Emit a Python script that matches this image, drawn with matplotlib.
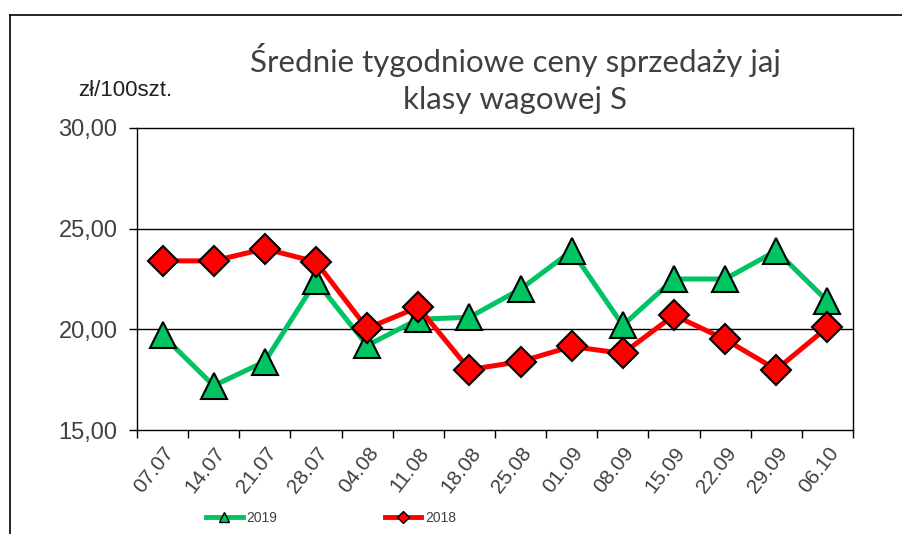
import numpy as np
import matplotlib.pyplot as plt
from matplotlib.lines import Line2D

weeks = ['07.07', '14.07', '21.07', '28.07', '04.08', '11.08', '18.08',
         '25.08', '01.09', '08.09', '15.09', '22.09', '29.09', '06.10']
prices_2019 = [19.7, 17.2, 18.4, 22.4, 19.2, 20.5, 20.6, 22.0, 23.9, 20.2, 22.5, 22.5, 23.9, 21.4]
prices_2018 = [23.4, 23.4, 24.0, 23.35, 20.05, 21.1, 18.0, 18.4, 19.15, 18.8, 20.7, 19.5, 18.0, 20.1]
yticks = [15, 20, 25, 30]

green = '#00C462'
red = '#FF0000'
txt = '#404040'

fig = plt.figure(figsize=(9.02, 5.34), dpi=100)
ax = fig.add_axes([137 / 902, 1 - 430 / 534, (853 - 137) / 902, (430 - 128) / 534])

x = np.arange(len(weeks))
ax.plot(x, prices_2019, color=green, lw=3.6, marker='^', ms=19,
        mfc=green, mec='black', mew=1.5, zorder=3)
ax.plot(x, prices_2018, color=red, lw=3.6, marker='D', ms=15,
        mfc=red, mec='black', mew=1.5, zorder=4)

ax.set_xlim(-0.5, len(weeks) - 0.5)
ax.set_ylim(15, 30)
ax.set_yticks(yticks)
ax.set_yticklabels([f'{v:.2f}'.replace('.', ',') for v in yticks],
                   fontsize=17, family='Liberation Sans', color=txt)
for v in [20, 25]:
    ax.axhline(v, color='black', lw=1.0, zorder=1)

ax.set_xticks(np.arange(len(weeks) + 1) - 0.5, minor=False)
ax.set_xticklabels([])
ax.set_xticks(x, minor=True)
ax.set_xticklabels(weeks, minor=True, rotation=52, ha='right', va='top',
                   rotation_mode='anchor', fontsize=15, family='Liberation Sans',
                   color=txt)
ax.tick_params(axis='x', which='minor', length=0, pad=10)
ax.tick_params(axis='x', which='major', direction='out', length=6, width=1)
ax.tick_params(axis='y', direction='out', length=6, width=1, pad=8)
for s in ax.spines.values():
    s.set_linewidth(1.0)
    s.set_color('black')

fig.text(515 / 902, 1 - 60 / 534, 'Średnie tygodniowe ceny sprzedaży jaj',
         ha='center', va='center', fontsize=22.5, color=txt, family='Lato')
fig.text(515 / 902, 1 - 100 / 534, 'klasy wagowej S',
         ha='center', va='center', fontsize=22.5, color=txt, family='Lato')
fig.text(125 / 902, 1 - 90 / 534, 'zł/100szt.', ha='center', va='center',
         fontsize=16, family='Liberation Sans', color='#222222')

# outer frame
fig.add_artist(Line2D([10 / 902, 1], [1 - 15 / 534, 1 - 15 / 534], color='black', lw=1.2,
                      transform=fig.transFigure))
fig.add_artist(Line2D([10 / 902, 10 / 902], [0, 1 - 15 / 534], color='black', lw=1.2,
                      transform=fig.transFigure))

# legend
h1 = Line2D([], [], color=green, lw=3.5, marker='^', ms=7, mfc=green, mec='black', mew=1)
h2 = Line2D([], [], color=red, lw=3.5, marker='D', ms=6, mfc=red, mec='black', mew=1)
fig.legend([h1], ['2019'], loc='center', bbox_to_anchor=(242 / 902, 1 - 518 / 534),
           frameon=False, handlelength=2.6, handletextpad=0.3,
           prop={'family': 'Liberation Sans', 'size': 10}, labelcolor=txt)
fig.legend([h2], ['2018'], loc='center', bbox_to_anchor=(421 / 902, 1 - 518 / 534),
           frameon=False, handlelength=2.6, handletextpad=0.3,
           prop={'family': 'Liberation Sans', 'size': 10}, labelcolor=txt)

fig.savefig('out.png', dpi=100)
